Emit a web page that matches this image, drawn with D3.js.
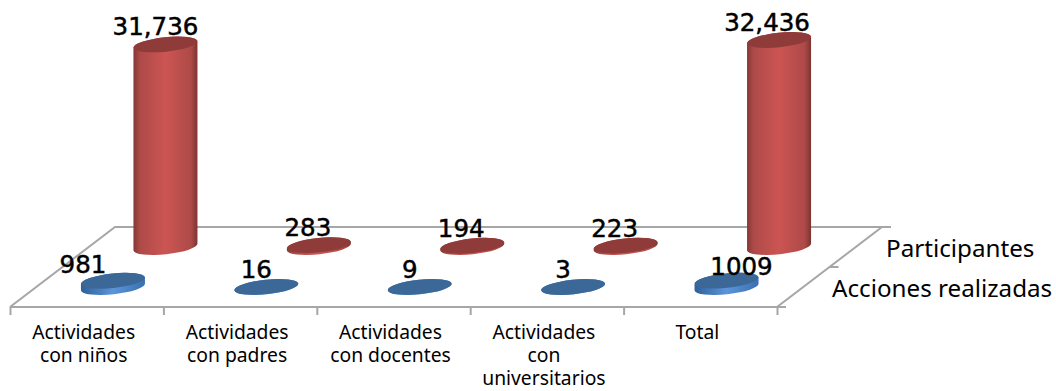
<!DOCTYPE html>
<html>
<head>
<meta charset="utf-8">
<script src="https://cdn.jsdelivr.net/npm/d3@7"></script>
<style>
  html, body { margin: 0; background: #fff; }
  svg { display: block; }
  text { font-family: "Noto Sans", sans-serif; fill: #000; }
  .value { font-family: "DejaVu Sans", sans-serif; stroke: #000; stroke-width: 0.5px; }
</style>
</head>
<body>
<div id="chart"></div>
<script>
const categories = [
  ["Actividades", "con niños"],
  ["Actividades", "con padres"],
  ["Actividades", "con docentes"],
  ["Actividades", "con", "universitarios"],
  ["Total"]
];
const seriesNames = ["Acciones realizadas", "Participantes"];
const acciones = [981, 16, 9, 3, 1009];
const participantes = [31736, 283, 194, 223, 32436];

const width = 1056, height = 391;
const floor = { left: 10, right: 777, front: 307, dx: 105, dy: -80 };

const svg = d3.select("#chart").append("svg")
  .attr("width", width)
  .attr("height", height)
  .attr("viewBox", `0 0 ${width} ${height}`);

// scales
const x = d3.scaleBand()
  .domain(d3.range(categories.length))
  .range([floor.left, floor.right]);
const depth = d3.scaleBand()
  .domain(seriesNames)
  .range([0, 1]);
const h = d3.scaleLinear()
  .domain([0, 32436])
  .range([0, 207]);

// gradients
function gradient(id, stops) {
  const g = svg.append("defs").append("linearGradient")
    .attr("id", id)
    .attr("x1", "0%").attr("x2", "100%")
    .attr("y1", "0%").attr("y2", "0%");
  g.selectAll("stop").data(stops).enter().append("stop")
    .attr("offset", d => d[0])
    .attr("stop-color", d => d[1]);
}
gradient("redBody", [["0%", "#863735"], ["10%", "#ad4a48"], ["50%", "#cc5553"], ["90%", "#ad4a48"], ["100%", "#7c3331"]]);
gradient("blueBody", [["0%", "#2f5f99"], ["50%", "#5b95da"], ["100%", "#3a70b0"]]);

// floor of the 3d plot
const grid = svg.append("g")
  .attr("fill", "none")
  .attr("stroke", "#a6a6a6")
  .attr("stroke-width", 2);
const fr = { x: floor.right + floor.dx * 0.5, y: floor.front + floor.dy * 0.5 };
grid.append("path").attr("d", `M${floor.left},${floor.front}L${floor.left + floor.dx},${floor.front + floor.dy}L${floor.right + floor.dx + 9},${floor.front + floor.dy}`);
grid.append("path").attr("d", `M${floor.right},${floor.front}L${floor.right + floor.dx},${floor.front + floor.dy}`);
grid.append("path").attr("d", `M${fr.x},${fr.y}h9`);

// front axis, ticks on the band edges
const edges = d3.scaleLinear()
  .domain([0, categories.length])
  .range([floor.left, floor.right]);
const axis = svg.append("g")
  .attr("transform", `translate(0,${floor.front})`)
  .call(d3.axisBottom(edges).ticks(categories.length).tickSize(8).tickFormat("").tickSizeOuter(0));
axis.select(".domain").remove();
axis.selectAll("line").attr("stroke", "#a6a6a6").attr("stroke-width", 2);
svg.append("path")
  .attr("d", `M${floor.left},${floor.front}H${floor.right + 9}`)
  .attr("stroke", "#a6a6a6").attr("stroke-width", 2).attr("fill", "none");

// cylinders
const rx = 32, ry = 7.2, tilt = 3.4, rot = -6;
function centerX(i, s) { return x(i) + x.bandwidth() / 2 + floor.dx * (depth(s) + depth.bandwidth() / 2); }
function baseY(s) { return floor.front + floor.dy * (depth(s) + depth.bandwidth() / 2); }

function bodyPath(cx, y0, y1) {
  const a = `A${rx},${ry} ${rot} 0 0`;
  return `M${cx - rx},${y1 + tilt}L${cx - rx},${y0 + tilt}${a} ${cx + rx},${y0 - tilt}L${cx + rx},${y1 - tilt}${a} ${cx - rx},${y1 + tilt}Z`;
}

const seriesList = [
  { name: seriesNames[1], values: participantes, body: "url(#redBody)", top: "#8e3b39" },
  { name: seriesNames[0], values: acciones, body: "url(#blueBody)", top: "#3c6897" }
];

seriesList.forEach(s => {
  const g = svg.append("g").selectAll("g")
    .data(s.values)
    .enter().append("g");
  g.append("path")
    .attr("d", (d, i) => bodyPath(centerX(i, s.name), baseY(s.name), baseY(s.name) - h(d)))
    .attr("fill", s.body);
  g.append("ellipse")
    .attr("rx", rx)
    .attr("ry", ry)
    .attr("transform", (d, i) => `translate(${centerX(i, s.name)},${baseY(s.name) - h(d)}) rotate(${rot})`)
    .attr("fill", s.top);
});

// data labels, moved by hand off the marks like in the original
const nudge = {
  [seriesNames[0]]: [[-30, -8], [-10, -9], [-10, -9], [-10, -9], [15, -6]],
  [seriesNames[1]]: [[-10, -9], [-11, -9], [-11, -9], [-11, -9], [-12, -9]]
};
const fmt = { [seriesNames[0]]: d3.format("d"), [seriesNames[1]]: d3.format(",") };
seriesList.forEach(s => {
  svg.append("g").selectAll("text")
    .data(s.values)
    .enter().append("text")
    .attr("class", "value")
    .attr("x", (d, i) => centerX(i, s.name) + nudge[s.name][i][0])
    .attr("y", (d, i) => baseY(s.name) - h(d) + nudge[s.name][i][1])
    .attr("text-anchor", "middle")
    .attr("font-size", 24.5)
    .text(d => fmt[s.name](d));
});

// category labels
const catLabels = svg.append("g").selectAll("text")
  .data(categories)
  .enter().append("text")
  .attr("text-anchor", "middle")
  .attr("font-size", 19.3);
catLabels.selectAll("tspan")
  .data((d, i) => d.map(t => ({ t, i })))
  .enter().append("tspan")
  .attr("x", d => x(d.i) + x.bandwidth() / 2 - 3)
  .attr("y", (d, j) => 339 + j * 23)
  .text(d => d.t);

// series names along the depth axis
svg.append("text").attr("x", 886).attr("y", 257).attr("font-size", 24.2).text(seriesNames[1]);
svg.append("text").attr("x", 832).attr("y", 297).attr("font-size", 24.2).text(seriesNames[0]);
</script>
</body>
</html>
